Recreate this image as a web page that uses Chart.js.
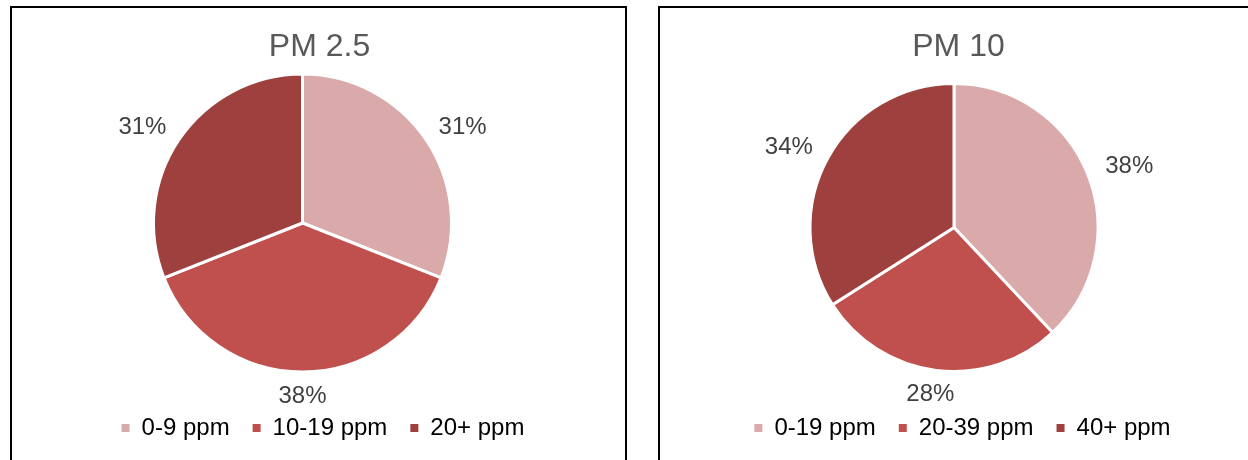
<!DOCTYPE html>
<html>
<head>
<meta charset="utf-8">
<script src="https://cdn.jsdelivr.net/npm/chart.js@4/dist/chart.umd.min.js"></script>
<style>
  html, body { margin: 0; padding: 0; background: #ffffff; }
  body { width: 1248px; height: 460px; overflow: hidden; position: relative; }
  .frame { position: absolute; border: 2px solid #000; box-sizing: border-box; pointer-events: none; z-index: 2; }
  canvas { position: absolute; z-index: 1; }
</style>
</head>
<body>
<div class="frame" style="left:10px; top:6px; width:617px; height:520px;"></div>
<div class="frame" style="left:658px; top:6px; width:620px; height:520px;"></div>
<canvas id="pm25" width="615" height="441" style="left:12px; top:9px;"></canvas>
<canvas id="pm10" width="595" height="441" style="left:661px; top:9px;"></canvas>
<script>
// Share of readings per concentration band
const pm25Title = 'PM 2.5';
const pm25Bands = ['0-9 ppm', '10-19 ppm', '20+ ppm'];
const pm25Share = [31, 38, 31];

const pm10Title = 'PM 10';
const pm10Bands = ['0-19 ppm', '20-39 ppm', '40+ ppm'];
const pm10Share = [38, 28, 34];

const bandColors = ['#DAA9A9', '#C0504D', '#9D403E'];

const FONT = "'Liberation Sans', Arial, sans-serif";

// Nudges the plot area and legend after Chart.js has laid out the boxes
const plotInset = {
  id: 'plotInset',
  afterLayout(chart, args, opts) {
    const a = chart.chartArea;
    a.left += opts.shiftX || 0;
    a.right += opts.shiftX || 0;
    a.bottom -= opts.bottom || 0;
    a.width = a.right - a.left;
    a.height = a.bottom - a.top;
    const lg = chart.legend;
    if (lg && opts.legendShiftX) {
      lg.left += opts.legendShiftX;
      lg.right += opts.legendShiftX;
    }
  }
};

// Percentage labels placed just outside each slice
const outsideLabels = {
  id: 'outsideLabels',
  afterDatasetsDraw(chart, args, opts) {
    const ctx = chart.ctx;
    const ds = chart.data.datasets[0];
    const total = ds.data.reduce((s, v) => s + v, 0);
    const meta = chart.getDatasetMeta(0);
    ctx.save();
    ctx.font = opts.size + 'px ' + FONT;
    ctx.fillStyle = opts.color;
    ctx.textAlign = 'center';
    ctx.textBaseline = 'middle';
    meta.data.forEach((arc, i) => {
      const p = arc.getProps(['x', 'y', 'startAngle', 'endAngle', 'outerRadius'], true);
      const mid = (p.startAngle + p.endAngle) / 2;
      const ux = Math.cos(mid), uy = Math.sin(mid);
      const text = Math.round(ds.data[i] / total * 100) + '%';
      const w = ctx.measureText(text).width;
      const r = p.outerRadius - opts.edge;
      const lx = p.x + ux * (r + w / 2 + opts.gapX);
      const ly = p.y + uy * (r + opts.size / 2 + opts.gapY);
      ctx.fillText(text, lx, ly + 1);
    });
    ctx.restore();
  }
};

function makePie(id, title, bands, values, titlePadBottom, inset) {
  return new Chart(document.getElementById(id), {
    type: 'pie',
    data: {
      labels: bands,
      datasets: [{
        data: values,
        backgroundColor: bandColors,
        borderColor: '#ffffff',
        borderWidth: 3,
        clip: false
      }]
    },
    options: {
      responsive: false,
      animation: false,
      devicePixelRatio: 1,
      layout: { padding: 0 },
      plugins: {
        title: {
          display: true,
          text: title,
          color: '#595959',
          font: { family: FONT, size: 32, weight: 'normal', lineHeight: 1.2 },
          padding: { top: 18.5, bottom: titlePadBottom }
        },
        legend: {
          display: true,
          position: 'bottom',
          labels: {
            boxWidth: 8,
            boxHeight: 8,
            padding: 23,
            color: '#595959',
            font: { family: FONT, size: 24 },
            generateLabels(chart) {
              return chart.data.labels.map((t, i) => ({
                text: t,
                fillStyle: bandColors[i],
                strokeStyle: bandColors[i],
                lineWidth: 0,
                hidden: false,
                index: i
              }));
            }
          }
        },
        tooltip: { enabled: false },
        plotInset: inset,
        outsideLabels: { size: 24, color: '#404040', edge: 1.5, gapX: 22, gapY: 13 }
      }
    },
    plugins: [plotInset, outsideLabels]
  });
}

makePie('pm25', pm25Title, pm25Bands, pm25Share, 6.6, { shiftX: -17, bottom: 19.5, legendShiftX: 3.5 });
makePie('pm10', pm10Title, pm10Bands, pm10Share, 16.1, { shiftX: -4.5, bottom: 20, legendShiftX: 4 });
</script>
</body>
</html>
